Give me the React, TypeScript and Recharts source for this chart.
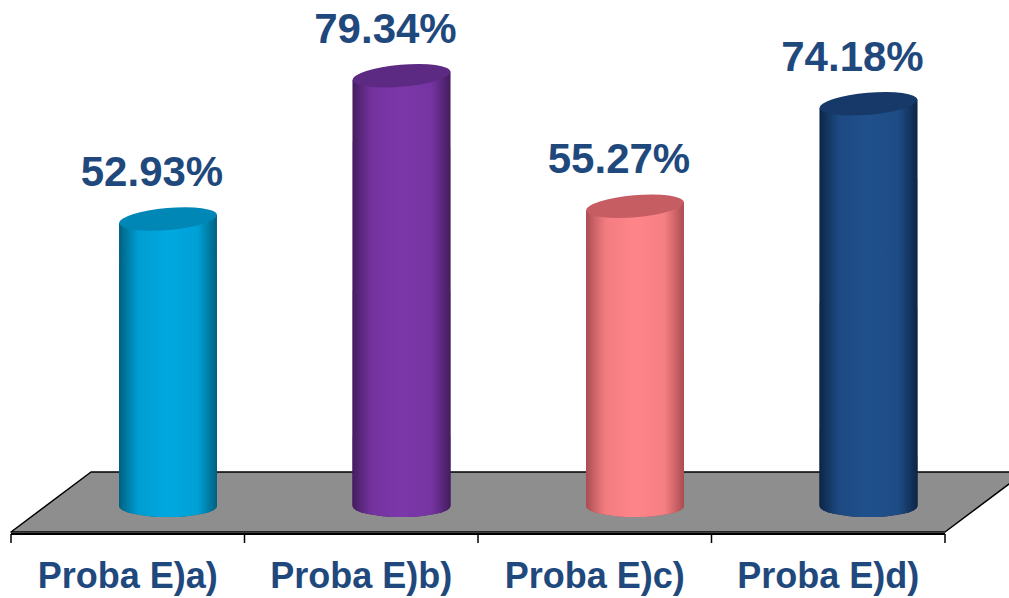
import React from "react";
import { BarChart, Bar, XAxis, YAxis, Cell, LabelList, Customized } from "recharts";

const categories = ["Proba E)a)", "Proba E)b)", "Proba E)c)", "Proba E)d)"];
const values = [52.93, 79.34, 55.27, 74.18];
const valueLabels = ["52.93%", "79.34%", "55.27%", "74.18%"];

const sideLight = ["#00A8E0", "#7C37AA", "#FF8589", "#20508C"];
const sideDark = ["#005F7E", "#431C5E", "#A84C50", "#0C2545"];
const topColors = ["#0087B5", "#5C2A82", "#C65D62", "#17396A"];

const W = 1009;
const H = 598;
const M = { top: 46, right: 64, bottom: 0, left: 11 };
const AXIS_H = 64;
const PLOT_W = W - M.left - M.right;
const PLOT_BOTTOM = H - M.bottom - AXIS_H;
const DEPTH_X = 80;
const DEPTH_Y = 60;
const TEXT = "#1F497D";
const FONT = "Arial, 'Liberation Sans', sans-serif";

const data = categories.map((name, i) => ({ name, value: values[i], label: valueLabels[i] }));

function Floor() {
  const x0 = M.left;
  const x1 = M.left + PLOT_W;
  const yf = PLOT_BOTTOM - 2;
  const yb = yf - DEPTH_Y;
  return (
    <g>
      <polygon
        points={`${x0},${yf} ${x1},${yf} ${x1 + DEPTH_X},${yb} ${x0 + DEPTH_X},${yb}`}
        fill="#8E8E8E"
        stroke="#000"
        strokeWidth={1.5}
        strokeLinejoin="round"
      />
    </g>
  );
}

function Cylinder(props: any) {
  const { x, y, width, height, index } = props;
  const i = index ?? 0;
  const cx = x + width / 2 + DEPTH_X / 2;
  const top = y - DEPTH_Y / 2 + 2;
  const bottom = y + height - DEPTH_Y / 2 + 2;
  const rx = width / 2;
  const ry = 11;
  const ang = (-5 * Math.PI) / 180;
  const lx = cx - rx * Math.cos(ang);
  const ly = top - rx * Math.sin(ang);
  const rxp = cx + rx * Math.cos(ang);
  const ryp = top + rx * Math.sin(ang);
  const gid = `cyl-grad-${i}`;
  return (
    <g>
      <defs>
        <linearGradient id={gid} x1="0" y1="0" x2="1" y2="0">
          <stop offset="0%" stopColor={sideDark[i]} />
          <stop offset="20%" stopColor={sideLight[i]} stopOpacity={0.85} />
          <stop offset="50%" stopColor={sideLight[i]} />
          <stop offset="80%" stopColor={sideLight[i]} stopOpacity={0.9} />
          <stop offset="100%" stopColor={sideDark[i]} />
        </linearGradient>
      </defs>
      <path
        d={`M${lx},${ly} L${cx - rx},${bottom} A${rx},${ry} 0 0 0 ${cx + rx},${bottom} L${rxp},${ryp} Z`}
        fill={sideDark[i]}
      />
      <path
        d={`M${lx},${ly} L${cx - rx},${bottom} A${rx},${ry} 0 0 0 ${cx + rx},${bottom} L${rxp},${ryp} Z`}
        fill={`url(#${gid})`}
      />
      <ellipse
        cx={cx}
        cy={top}
        rx={rx}
        ry={ry}
        fill={topColors[i]}
        transform={`rotate(-5 ${cx} ${top})`}
      />
    </g>
  );
}

function ValueLabel(props: any) {
  const { x, y, width, value } = props;
  return (
    <text
      x={x + width / 2 + DEPTH_X / 2 - 16}
      y={y - DEPTH_Y / 2 + 2 - 33}
      textAnchor="middle"
      fill={TEXT}
      fontFamily={FONT}
      fontWeight="bold"
      fontSize={42}
    >
      {value}
    </text>
  );
}

function CategoryTick(props: any) {
  const { x, payload, index } = props;
  const band = PLOT_W / categories.length;
  const left = x - band / 2;
  return (
    <g>
      <line x1={left} y1={PLOT_BOTTOM} x2={left} y2={PLOT_BOTTOM + 9} stroke="#000" strokeWidth={1.5} />
      {index === categories.length - 1 && (
        <line x1={x + band / 2} y1={PLOT_BOTTOM} x2={x + band / 2} y2={PLOT_BOTTOM + 9} stroke="#000" strokeWidth={1.5} />
      )}
      <text
        x={x}
        y={PLOT_BOTTOM + 54}
        textAnchor="middle"
        fill={TEXT}
        fontFamily={FONT}
        fontWeight="bold"
        fontSize={36}
      >
        {payload.value}
      </text>
    </g>
  );
}

export default function App() {
  return (
    <div style={{ position: "absolute", left: 0, top: 0, width: W, height: H, background: "#fff" }}>
      <BarChart width={W} height={H} data={data} margin={M} barSize={98}>
        <Customized component={Floor} />
        <YAxis hide domain={[0, 90]} />
        <XAxis
          dataKey="name"
          height={AXIS_H}
          axisLine={{ stroke: "#000", strokeWidth: 2 }}
          tickLine={false}
          tick={<CategoryTick />}
          interval={0}
        />
        <Bar dataKey="value" shape={<Cylinder />} isAnimationActive={false}>
          {data.map((_, i) => (
            <Cell key={i} fill={sideLight[i]} />
          ))}
          <LabelList dataKey="label" content={<ValueLabel />} />
        </Bar>
      </BarChart>
    </div>
  );
}
